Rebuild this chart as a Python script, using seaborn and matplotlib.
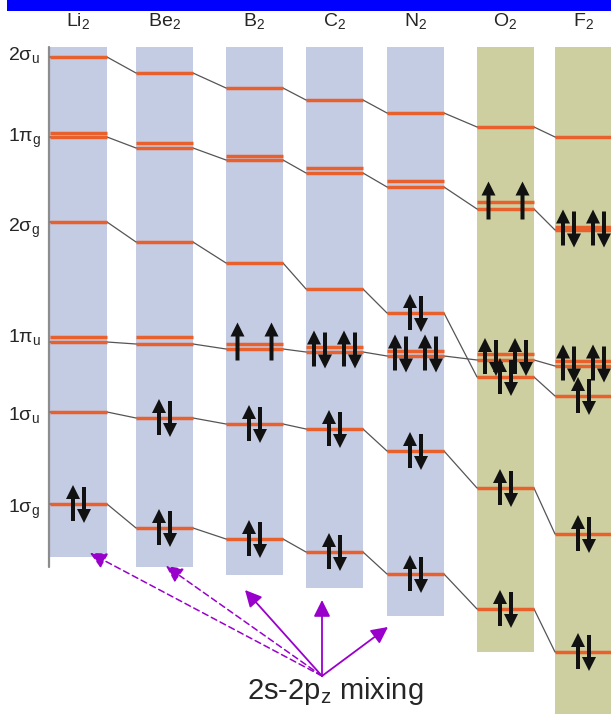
import pandas as pd
import matplotlib.pyplot as plt
import seaborn as sns
from matplotlib.patches import Rectangle

sns.set_style("white")
plt.rcParams['font.family'] = ['Liberation Sans', 'DejaVu Sans']
plt.rcParams['mathtext.default'] = 'regular'

# --- data (screen units, larger = lower energy) ---
molecules = ['Li$_2$', 'Be$_2$', 'B$_2$', 'C$_2$', 'N$_2$', 'O$_2$', 'F$_2$']
orbitals = ['1sg', '1su', '2sg', '1pu', '1pg', '2su']
orbital_labels = ['1σ$_g$', '1σ$_u$', '2σ$_g$', '1π$_u$', '1π$_g$', '2σ$_u$']

lvl_1sg = [504, 528, 539, 552, 574, 609, 652]
lvl_1su = [412, 418, 424, 429, 451, 488, 534]
lvl_2sg = [222, 242, 263, 289, 313, 377, 396]
lvl_1pu = [342, 344, 349, 352, 356, 360, 366]      # lower line of the pi pair
lvl_1pu_hi = [337, 337, 344, 347, 351, 354, 361]   # upper line of the pi pair
lvl_1pg = [137, 148, 160, 173, 187, 209, 230]
lvl_1pg_hi = [133, 143, 156, 168, 181, 202, 227]
lvl_2su = [57, 73, 88, 100, 113, 127, 137]

occ_1sg = [2, 2, 2, 2, 2, 2, 2]
occ_1su = [0, 2, 2, 2, 2, 2, 2]
occ_2sg = [0, 0, 0, 0, 2, 2, 2]
occ_1pu = [0, 0, 2, 4, 4, 4, 4]
occ_1pg = [0, 0, 0, 0, 0, 2, 4]
occ_2su = [0, 0, 0, 0, 0, 0, 0]

levels = {'1sg': lvl_1sg, '1su': lvl_1su, '2sg': lvl_2sg,
          '1pu': lvl_1pu, '1pg': lvl_1pg, '2su': lvl_2su}
levels_hi = {'1pu': lvl_1pu_hi, '1pg': lvl_1pg_hi}
occupancy = {'1sg': occ_1sg, '1su': occ_1su, '2sg': occ_2sg,
             '1pu': occ_1pu, '1pg': occ_1pg, '2su': occ_2su}

# --- layout ---
col_left = [50, 136, 226, 306, 387, 477, 555]
col_w = 57
col_top = 47
col_bottom = [557, 567, 575, 588, 616, 652, 714]
col_colors = ['#C4CCE4'] * 5 + ['#CDCFA0'] * 2
label_y = [513, 420, 232, 342, 142, 60]

fig = plt.figure(figsize=(6.11, 7.14), dpi=100)
ax = fig.add_axes([0, 0, 1, 1])

# top bar
ax.add_patch(Rectangle((7, 0), 604, 11, color='#0000FF', lw=0))

# columns
for i, name in enumerate(molecules):
    ax.add_patch(Rectangle((col_left[i], col_top), col_w + (2 if i == 6 else 0),
                           col_bottom[i] - col_top, color=col_colors[i], lw=0, zorder=1))
    ax.text(col_left[i] + col_w / 2, 21, name, ha='center', va='center',
            fontsize=14, family=['Liberation Sans Narrow', 'Liberation Sans'])

ax.plot([49, 49], [col_top, 567], color='#8C8C8C', lw=1.6, zorder=2)

# gray connectors between columns
rows = []
for orb in orbitals:
    for i in range(len(molecules)):
        rows.append({'orbital': orb, 'x': col_left[i], 'y': levels[orb][i]})
        rows.append({'orbital': orb, 'x': col_left[i] + col_w, 'y': levels[orb][i]})
conn = pd.DataFrame(rows)
sns.lineplot(data=conn, x='x', y='y', units='orbital', estimator=None, sort=False,
             color='#555555', lw=0.9, ax=ax, zorder=2)

# orange levels
orange = '#E8602C'
for orb in orbitals:
    for i in range(len(molecules)):
        x0, x1 = col_left[i], col_left[i] + col_w + (2 if i == 6 else 0)
        ax.hlines(levels[orb][i], x0, x1, color=orange, lw=2.5, zorder=3)
        if orb in levels_hi:
            ax.hlines(levels_hi[orb][i], x0, x1, color=orange, lw=2.5, zorder=3)


def spin(x, y, up, single=False):
    if up:
        y0, y1 = (y + 14, y - 24) if single else (y + 17, y - 19)
    else:
        y0, y1 = y - 17, y + 19
    ax.arrow(x, y0, 0, y1 - y0, width=4, head_width=14, head_length=14,
             length_includes_head=True, color='#111111', lw=0, zorder=5)


def pair(x, y):
    spin(x - 5.5, y, True)
    spin(x + 5.5, y, False)


for orb in orbitals:
    for i in range(len(molecules)):
        n = occupancy[orb][i]
        if n == 0:
            continue
        cx = col_left[i] + col_w / 2
        if orb in levels_hi:
            y = (levels[orb][i] + levels_hi[orb][i]) / 2
            if n == 2:
                spin(cx - 17, y, True, single=True)
                spin(cx + 17, y, True, single=True)
            else:
                pair(cx - 15, y)
                pair(cx + 15, y)
        else:
            pair(cx, levels[orb][i])

# orbital labels on the left
for lab, yy in zip(orbital_labels, label_y):
    ax.text(8, yy, lab, ha='left', va='baseline', fontsize=14)

# 2s-2pz mixing arrows
purple = '#9A00CC'
origin = (322, 676)
dashed_targets = [(90, 553), (166, 566)]
solid_targets = [(245, 590), (322, 600), (388, 627)]
for tgt in dashed_targets:
    ax.annotate('', xy=tgt, xytext=origin,
                arrowprops=dict(arrowstyle='-|>,head_length=1.0,head_width=0.5',
                                color=purple, lw=1.1, linestyle=(0, (4, 2.5)),
                                shrinkA=0, shrinkB=0), zorder=6)
for tgt in solid_targets:
    ax.annotate('', xy=tgt, xytext=origin,
                arrowprops=dict(arrowstyle='-|>,head_length=1.0,head_width=0.5',
                                color=purple, lw=1.3, shrinkA=0, shrinkB=0), zorder=6)
ax.text(335, 691, '2s-2p$_z$ mixing', ha='center', va='center', fontsize=21)

ax.set_xlim(0, 611)
ax.set_ylim(714, 0)
ax.axis('off')
fig.savefig('out.png', dpi=100)
